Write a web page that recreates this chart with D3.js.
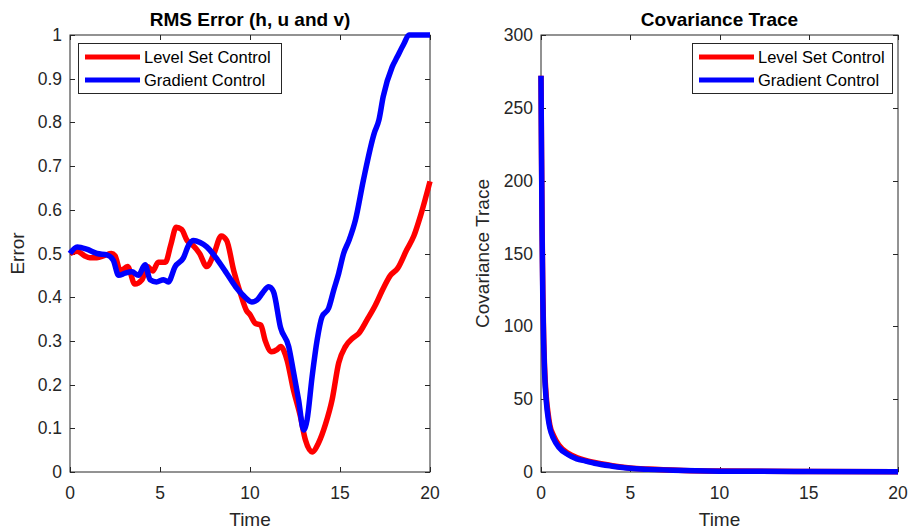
<!DOCTYPE html>
<html><head><meta charset="utf-8">
<script src="https://cdn.jsdelivr.net/npm/d3@7"></script>
<style>
body{margin:0;background:#fff;}
svg{display:block;font-family:"Liberation Sans",Arial,Helvetica,sans-serif;}
</style></head>
<body><svg id="c" width="909" height="529"></svg>
<script>
// ---------- data ----------
const seriesNames = ["Level Set Control", "Gradient Control"];
const seriesColors = ["#ff0000", "#0000ff"];

const rmsTimeLS = [0,0.4,0.8,1.1,1.5,1.9,2.3,2.5,2.8,3.2,3.6,4.0,4.3,4.6,4.9,5.3,5.6,5.9,6.2,6.5,6.8,7.2,7.6,8.0,8.4,8.7,9.1,9.46,9.8,10.0,10.3,10.6,10.85,11.2,11.5,11.7,12.06,12.4,12.8,13.08,13.45,13.8,14.2,14.56,14.93,15.3,15.7,16.04,16.5,16.97,17.4,17.8,18.2,18.7,19.1,19.5,20];
const rmsErrLS  = [0.50,0.505,0.495,0.49,0.49,0.495,0.50,0.495,0.46,0.47,0.43,0.44,0.47,0.46,0.48,0.48,0.52,0.56,0.555,0.53,0.52,0.50,0.47,0.50,0.54,0.53,0.46,0.41,0.37,0.36,0.34,0.336,0.30,0.275,0.28,0.287,0.256,0.19,0.127,0.073,0.046,0.066,0.11,0.165,0.25,0.287,0.306,0.317,0.348,0.382,0.42,0.45,0.466,0.508,0.54,0.59,0.665];

const rmsTimeGC = [0,0.4,0.93,1.5,2.05,2.4,2.7,3.06,3.44,3.8,4.17,4.45,4.8,5.2,5.46,5.84,6.3,6.6,6.86,7.23,7.6,8.2,8.7,9.2,9.6,10.1,10.4,10.7,11.04,11.3,11.7,12.15,12.4,12.7,12.98,13.17,13.45,13.73,14.0,14.37,14.65,14.93,15.2,15.5,15.86,16.3,16.9,17.16,17.4,17.9,18.18,18.55,18.83,19.2,20];
const rmsErrGC  = [0.50,0.515,0.51,0.50,0.497,0.485,0.45,0.455,0.458,0.45,0.474,0.44,0.435,0.44,0.435,0.47,0.49,0.52,0.53,0.525,0.515,0.485,0.455,0.424,0.405,0.389,0.394,0.41,0.424,0.413,0.33,0.287,0.233,0.165,0.096,0.119,0.218,0.302,0.355,0.375,0.416,0.455,0.50,0.53,0.577,0.668,0.775,0.805,0.859,0.927,0.95,0.98,1.0,1.0,1.0];

const covTime = [0,0.03,0.06,0.1,0.15,0.2,0.3,0.4,0.5,0.7,1,1.5,2,2.5,3,4,5,6,8,10,15,20];
const covLS   = [272,218,170,125,92,72,51,40,32,25,18.5,13,10,8,6.5,4.3,2.8,2,1.1,0.7,0.35,0.25];
const covGC   = [272,215,165,120,88,68,48,37,30,23,17,12,9,7.5,6,4,2.5,1.8,1,0.6,0.3,0.2];

const xTicks = [0,5,10,15,20];
const rmsTicks = [0,0.1,0.2,0.3,0.4,0.5,0.6,0.7,0.8,0.9,1];
const covTicks = [0,50,100,150,200,250,300];

// ---------- drawing ----------
const svg = d3.select("#c");
const axisColor = "#262626";
const tickFont = 17.5, legendFont = 16.5, titleFont = 19, labelFont = 19;

function panel(o){
  const g = svg.append("g");
  const x = d3.scaleLinear().domain([0,20]).range([o.left,o.right]);
  const y = d3.scaleLinear().domain(o.ydom).range([o.bottom,o.top]);
  const tl = 5;
  g.append("rect").attr("x",o.left).attr("y",o.top).attr("width",o.right-o.left).attr("height",o.bottom-o.top)
    .attr("fill","none").attr("stroke",axisColor).attr("stroke-width",1);
  xTicks.forEach(v=>{
    const px = Math.round(x(v))+0.5;
    g.append("line").attr("x1",px).attr("x2",px).attr("y1",o.bottom).attr("y2",o.bottom-tl).attr("stroke",axisColor);
    g.append("line").attr("x1",px).attr("x2",px).attr("y1",o.top).attr("y2",o.top+tl).attr("stroke",axisColor);
    g.append("text").attr("x",x(v)).attr("y",o.bottom+27).attr("text-anchor","middle")
      .attr("font-size",tickFont).attr("fill",axisColor).text(String(v));
  });
  o.yticks.forEach(v=>{
    const py = Math.round(y(v))+0.5;
    g.append("line").attr("x1",o.left).attr("x2",o.left+tl).attr("y1",py).attr("y2",py).attr("stroke",axisColor);
    g.append("line").attr("x1",o.right).attr("x2",o.right-tl).attr("y1",py).attr("y2",py).attr("stroke",axisColor);
    g.append("text").attr("x",o.left-8).attr("y",y(v)+6).attr("text-anchor","end")
      .attr("font-size",tickFont).attr("fill",axisColor).text(String(v));
  });
  g.append("text").attr("x",(o.left+o.right)/2).attr("y",o.top-9).attr("text-anchor","middle")
    .attr("font-size",titleFont).attr("font-weight","bold").attr("fill","#000").text(o.title);
  g.append("text").attr("x",(o.left+o.right)/2).attr("y",o.bottom+54).attr("text-anchor","middle")
    .attr("font-size",labelFont).attr("fill",axisColor).text("Time");
  g.append("text").attr("transform",`translate(${o.ylabX},${(o.top+o.bottom)/2}) rotate(-90)`)
    .attr("text-anchor","middle").attr("font-size",labelFont).attr("fill",axisColor).text(o.ylabel);
  const line = d3.line().x(d=>x(d[0])).y(d=>y(d[1])).curve(d3.curveMonotoneX);
  o.series.forEach((s,i)=>{
    g.append("path").attr("d",line(d3.zip(s.t,s.v))).attr("fill","none")
      .attr("stroke",seriesColors[i]).attr("stroke-width",5.5).attr("stroke-linejoin","round").attr("stroke-linecap","butt");
  });
  const L = o.legend;
  g.append("rect").attr("x",L.x+0.5).attr("y",L.y+0.5).attr("width",L.w).attr("height",L.h)
    .attr("fill","#fff").attr("stroke",axisColor).attr("stroke-width",1);
  seriesNames.forEach((n,i)=>{
    const ly = L.y + 14 + i*23;
    g.append("line").attr("x1",L.x+7).attr("x2",L.x+62).attr("y1",ly).attr("y2",ly)
      .attr("stroke",seriesColors[i]).attr("stroke-width",5);
    g.append("text").attr("x",L.x+66).attr("y",ly+6).attr("font-size",legendFont).attr("fill","#000").text(n);
  });
}

panel({left:70,right:430,top:35,bottom:472,ydom:[0,1],yticks:rmsTicks,title:"RMS Error (h, u and v)",
  ylabel:"Error",ylabX:24,
  series:[{t:rmsTimeLS,v:rmsErrLS},{t:rmsTimeGC,v:rmsErrGC}],
  legend:{x:78,y:43,w:203,h:50}});
panel({left:541,right:898,top:35,bottom:472,ydom:[0,300],yticks:covTicks,title:"Covariance Trace",
  ylabel:"Covariance Trace",ylabX:489,
  series:[{t:covTime,v:covLS},{t:covTime,v:covGC}],
  legend:{x:692,y:43,w:200,h:50}});
</script></body></html>
